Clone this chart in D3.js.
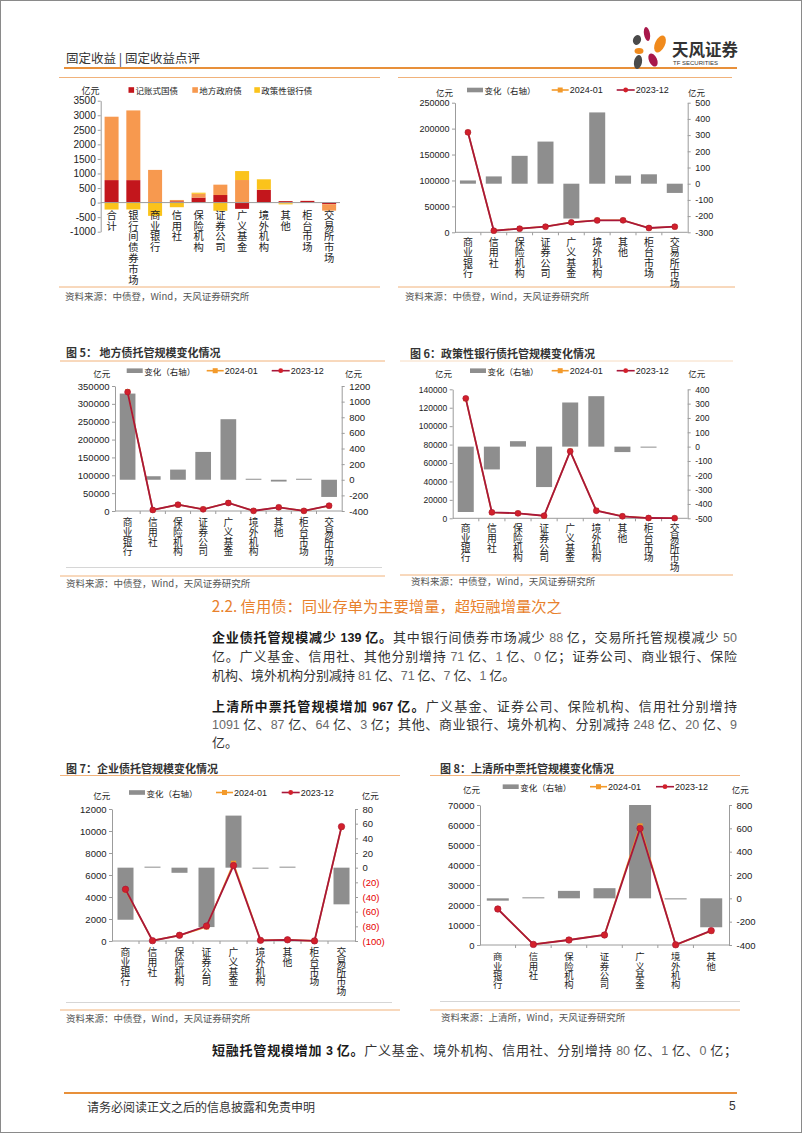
<!DOCTYPE html>
<html><head><meta charset="utf-8">
<script src="https://cdn.jsdelivr.net/npm/d3@7/dist/d3.min.js"></script>
<style>
html,body{margin:0;padding:0;background:#fff;}
#page{position:relative;width:802px;height:1133px;overflow:hidden;background:#fff;}
#page svg{position:absolute;left:0;top:0;}
.ln{position:absolute;left:212px;width:525px;height:19px;line-height:19px;font-family:"Noto Sans CJK SC",sans-serif;font-size:13px;color:#333;}
.j{text-align:justify;text-align-last:justify;}
.n{font-family:"Liberation Sans",Arial,sans-serif;color:#6a6a6a;font-size:12.5px;}
.ln b{font-weight:bold;color:#1a1a1a;}
.ln b .n{color:#1a1a1a;font-weight:bold;}
</style></head>
<body><div id="page"></div>
<script>
// ================= DATA =================
const catsAll = ["合计","银行间债券市场","商业银行","信用社","保险机构","证券公司","广义基金","境外机构","其他","柜台市场","交易所市场"];
const stackNames = ["记账式国债","地方政府债","政策性银行债"];
const govChgAll = [773, 772, 20, 45, 172, 260, -215, 440, 50, 58, -57];
const localChgAll = [2177, 2394, 1103, 45, 130, 356, 775, 8, -23, 3, -220];
const policyChgAll = [-239, -237, -456, -159, 38, -282, 308, 352, -38, -2, 0];
const ticksAll = [-1000, -500, 0, 500, 1000, 1500, 2000, 2500, 3000, 3500];

const legendNames = ["变化（右轴）", "2024-01", "2023-12"];
const cats9 = ["商业银行","信用社","保险机构","证券公司","广义基金","境外机构","其他","柜台市场","交易所市场"];
const cats7 = ["商业银行","信用社","保险机构","证券公司","广义基金","境外机构","其他"];

// 记账式国债 (top right)
const govChg  = [20, 45, 172, 260, -215, 440, 50, 58, -57];
const gov2401 = [192920, 3145, 7172, 11060, 19085, 23340, 23150, 8358, 10743];
const gov2312 = [192900, 3100, 7000, 10800, 19300, 22900, 23100, 8300, 10800];
const govTicksL = [0, 50000, 100000, 150000, 200000, 250000];
const govTicksR = [-300, -200, -100, 0, 100, 200, 300, 400, 500];

// 图5 地方债
const localChg  = [1103, 45, 130, 356, 775, 8, -23, 3, -220];
const local2401 = [334100, 2845, 17830, 5056, 23175, 508, 10277, 403, 14680];
const local2312 = [333000, 2800, 17700, 4700, 22400, 500, 10300, 400, 14900];
const localTicksL = [0, 50000, 100000, 150000, 200000, 250000, 300000, 350000];
const localTicksR = [-400, -200, 0, 200, 400, 600, 800, 1000, 1200];

// 图6 政策性银行债
const policyChg  = [-456, -159, 38, -282, 308, 352, -38, -2, 0];
const policy2401 = [129744, 6341, 5438, 2518, 73008, 8552, 2162, 298, 100];
const policy2312 = [130200, 6500, 5400, 2800, 72700, 8200, 2200, 300, 100];
const policyTicksL = [0, 20000, 40000, 60000, 80000, 100000, 120000, 140000];
const policyTicksR = [-500, -400, -300, -200, -100, 0, 100, 200, 300, 400];

// 图7 企业债
const corpChg  = [-71, 1, -7, -81, 71, -1, 0.4, 0, -50];
const corp2401 = [4629, 31, 513, 1279, 7060, 59, 110, 10, 10350];
const corp2312 = [4700, 30, 520, 1360, 6860, 60, 110, 10, 10400];
const corpTicksL = [0, 2000, 4000, 6000, 8000, 10000, 12000];
const corpTicksR = [-100, -80, -60, -40, -20, 0, 20, 40, 60, 80];

// 图8 上清所中票
const mtnChg  = [-20, 3, 64, 87, 1091, -9, -248];
const mtn2401 = [17980, 303, 2564, 5087, 59500, 91, 6952];
const mtn2312 = [18000, 300, 2500, 5000, 58300, 100, 7200];
const mtnTicksL = [0, 10000, 20000, 30000, 40000, 50000, 60000, 70000];
const mtnTicksR = [-400, -200, 0, 200, 400, 600, 800];

// ================= STYLE =================
const CJK = "'Noto Sans CJK SC','Noto Sans',sans-serif";
const NUM = "'Liberation Sans',Arial,sans-serif";
const C = {bar:"#8E8E8E", o:"#F39A2B", r:"#A8173A", rm:"#D3202A", gov:"#C3161C", loc:"#F7994F", pol:"#FBC31B",
           axis:"#9C9C9C", head:"#E8903A", box:"#F1B27A", gray:"#D6D6D6", txt:"#222"};
const plain = d => String(d);

const page = d3.select("#page");
const svg = page.append("svg").attr("width", 802).attr("height", 1133);
svg.append("rect").attr("x",0.5).attr("y",0.5).attr("width",801).attr("height",1132)
   .attr("fill","#fff").attr("stroke","#8a8a8a");

function addText(x, y, s, o = {}) {
  return svg.append("text").attr("x", x).attr("y", y).attr("dominant-baseline","central")
    .attr("font-family", o.ff || CJK).attr("font-size", o.fs || 10).attr("fill", o.fill || C.txt)
    .attr("font-weight", o.fw || "normal").attr("text-anchor", o.anchor || "start").text(s);
}
function hline(x1, x2, y, stroke, w = 1) {
  svg.append("line").attr("x1",x1).attr("x2",x2).attr("y1",y).attr("y2",y)
     .attr("stroke",stroke).attr("stroke-width",w);
}
// vertical category labels: one text per category, written top-to-bottom
function vlabels(g, x, cats, y0, dy, fs) {
  g.selectAll(null).data(cats).join("text")
    .attr("x", c => x(c) + x.bandwidth()/2).attr("y", y0 - fs/2)
    .attr("writing-mode", "vertical-rl").style("letter-spacing", (dy - fs) + "px")
    .attr("font-family", CJK).attr("font-size", fs).attr("fill", C.txt)
    .text(c => c);
}
function styleAxis(a, fs) {
  a.select(".domain").attr("stroke", C.axis);
  a.selectAll(".tick line").attr("stroke", C.axis);
  a.selectAll(".tick text").attr("font-family", NUM).attr("font-size", fs).attr("fill", C.txt);
}
let clipN = 0;

// ================= HEADER / FOOTER =================
addText(66, 57, "固定收益 | 固定收益点评", {fs:12.5, fill:"#333"});
hline(64, 737, 68, C.head, 2);
const logo = svg.append("g");
[[647,34,3,7,-10,"#A8174A"],[637,40,4,5,20,"#4A4A4A"],[660,44,5,9,25,"#F08A1C"],
 [639,51,4.5,3,0,"#F08A1C"],[638,62,4,7,10,"#4A4A4A"],[653,60,4,7,-25,"#A8174A"]].forEach(p=>{
  logo.append("ellipse").attr("cx",p[0]).attr("cy",p[1]).attr("rx",p[2]).attr("ry",p[3])
    .attr("transform",`rotate(${p[4]},${p[0]},${p[1]})`).attr("fill",p[5]);
});
addText(672, 49, "天风证券", {fs:16.5, fw:"bold", fill:"#333"});
addText(673, 63, "TF SECURITIES", {fs:6, ff:NUM, fill:"#333"});

hline(64, 737, 1093, C.head, 2);
addText(87, 1106, "请务必阅读正文之后的信息披露和免责申明", {fs:12, fill:"#333"});
addText(729, 1106, "5", {fs:12, ff:NUM, fill:"#333"});

// box lines (top row)
hline(59, 380, 77.5, C.box, 1);
hline(398, 732, 77.5, C.box, 1);
hline(59, 380, 287, C.box, 1);
hline(398, 735, 287, C.box, 1);
addText(65, 296, "资料来源：中债登，Wind，天风证券研究所", {fs:9.5, fill:"#555"});
addText(405, 296, "资料来源：中债登，Wind，天风证券研究所", {fs:9.5, fill:"#555"});

// fig5 / fig6 frames
addText(66, 352, "图 5： 地方债托管规模变化情况", {fs:11, fw:"bold", fill:"#333"});
hline(60, 385, 361, C.box, 1);
hline(66, 382, 567.5, C.gray, 1);
hline(60, 385, 576, C.box, 1);
addText(66, 583, "资料来源：中债登，Wind，天风证券研究所", {fs:9.5, fill:"#555"});

addText(410, 352.5, "图 6：政策性银行债托管规模变化情况", {fs:11, fw:"bold", fill:"#333"});
hline(400, 733, 361, "#F7DCC2", 1);
hline(400, 733, 575, C.box, 1);
addText(411, 581, "资料来源：中债登，Wind，天风证券研究所", {fs:9.5, fill:"#555"});

// fig7 / fig8 frames
addText(66, 767.5, "图 7：企业债托管规模变化情况", {fs:11, fw:"bold", fill:"#333"});
hline(60, 400, 775.5, C.box, 1);
hline(66, 392, 1002.5, C.gray, 1);
hline(60, 400, 1010, C.box, 1);
addText(66, 1018, "资料来源：中债登，Wind，天风证券研究所", {fs:9.5, fill:"#555"});

addText(440, 767.5, "图 8：上清所中票托管规模变化情况", {fs:11, fw:"bold", fill:"#333"});
hline(430, 740, 775.5, C.box, 1);
hline(440, 740, 1001.5, C.gray, 1);
hline(430, 740, 1010, C.box, 1);
addText(441, 1017, "资料来源：上清所，Wind，天风证券研究所", {fs:9.5, fill:"#555"});

// ================= STACKED CHART (top left) =================
(function(){
  const g = svg.append("g");
  const xL = 100.7, xR = 340, yT = 100.7, yB = 231.7;
  const x = d3.scaleBand().domain(catsAll).range([xL, xR]);
  const y = d3.scaleLinear().domain([ticksAll[0], ticksAll[ticksAll.length-1]]).range([yB, yT]);
  const rows = catsAll.map((c,i) => ({cat:c, a:govChgAll[i], b:localChgAll[i], c:policyChgAll[i]}));
  const series = d3.stack().keys(["a","b","c"]).offset(d3.stackOffsetDiverging)(rows);
  const cols = [C.gov, C.loc, C.pol];
  const bw = 14;
  series.forEach((s, k) => {
    g.append("g").selectAll("rect").data(s).join("rect")
      .attr("x", d => x(d.data.cat) + x.bandwidth()/2 - bw/2).attr("width", bw)
      .attr("y", d => y(Math.max(d[0], d[1]))).attr("height", d => Math.abs(y(d[0]) - y(d[1])))
      .attr("fill", cols[k]);
  });
  const ax = g.append("g").attr("transform", `translate(${xL},0)`)
    .call(d3.axisLeft(y).tickValues(ticksAll).tickSize(3).tickPadding(2).tickSizeOuter(0).tickFormat(plain));
  styleAxis(ax, 10);
  g.append("line").attr("x1",xL).attr("x2",xR).attr("y1",y(0)).attr("y2",y(0)).attr("stroke",C.axis);
  vlabels(g, x, catsAll, y(0) + 12.4, 10.8, 10.3);
  addText(81.5, 90, "亿元", {fs:9});
  const lx = [128.5, 192.3, 254.3];
  stackNames.forEach((nm, k) => {
    svg.append("rect").attr("x", lx[k]).attr("y", 87.2).attr("width", 5.6).attr("height", 5.6).attr("fill", cols[k]);
    addText(lx[k] + 7, 90, nm, {fs:8.5});
  });
})();

// ================= COMBO CHARTS =================
function combo(o) {
  const g = svg.append("g");
  const x = d3.scaleBand().domain(o.cats).range([o.xL, o.xR]);
  const yl = d3.scaleLinear().domain([o.lT[0], o.lT[o.lT.length-1]]).range([o.yB, o.yT]);
  const yr = d3.scaleLinear().domain([o.rT[0], o.rT[o.rT.length-1]]).range([o.yB, o.yT]);
  const cx = c => x(c) + x.bandwidth()/2;
  const id = "clip" + (clipN++);
  svg.append("clipPath").attr("id", id).append("rect")
    .attr("x", o.xL).attr("y", o.yT).attr("width", o.xR - o.xL).attr("height", o.yB - o.yT);
  // bars on the right axis
  g.append("g").attr("clip-path", `url(#${id})`).selectAll("rect").data(o.bars).join("rect")
    .attr("x", (d,i) => cx(o.cats[i]) - o.bw/2).attr("width", o.bw)
    .attr("y", d => d > 0 ? Math.min(yr(d), yr(0) - 1) : yr(0))
    .attr("height", d => d === 0 ? 0 : Math.max(1, Math.abs(yr(d) - yr(0))))
    .attr("fill", C.bar);
  const al = g.append("g").attr("transform", `translate(${o.xL},0)`)
    .call(d3.axisLeft(yl).tickValues(o.lT).tickSize(3).tickPadding(2.5).tickSizeOuter(0).tickFormat(plain));
  styleAxis(al, o.tfs);
  const ar = g.append("g").attr("transform", `translate(${o.xR},0)`)
    .call(d3.axisRight(yr).tickValues(o.rT).tickSize(3).tickPadding(4.5).tickSizeOuter(0)
      .tickFormat(o.rFmt || plain));
  styleAxis(ar, o.tfs);
  if (o.rRed) ar.selectAll(".tick text").attr("fill", d => d < 0 ? "#E60000" : C.txt);
  g.append("line").attr("x1", o.xL).attr("x2", o.xR).attr("y1", o.yB).attr("y2", o.yB).attr("stroke", C.axis);
  g.selectAll(null).data(o.cats.slice(1)).join("line")
    .attr("x1", d => x(d)).attr("x2", d => x(d)).attr("y1", o.yB).attr("y2", o.yB + 3).attr("stroke", C.axis);
  const line = d3.line().x((d,i) => cx(o.cats[i])).y(d => yl(d));
  g.append("path").datum(o.a).attr("d", line).attr("fill","none").attr("stroke", C.o).attr("stroke-width", 1.6);
  g.selectAll(null).data(o.a).join("rect")
    .attr("x", (d,i) => cx(o.cats[i]) - 2.6).attr("y", d => yl(d) - 2.6).attr("width", 5.2).attr("height", 5.2).attr("fill", C.o);
  g.append("path").datum(o.b).attr("d", line).attr("fill","none").attr("stroke", C.r).attr("stroke-width", 1.8);
  g.selectAll(null).data(o.b).join("circle")
    .attr("cx", (d,i) => cx(o.cats[i])).attr("cy", d => yl(d)).attr("r", o.mr || 2.9)
    .attr("fill", C.rm).attr("stroke", C.r).attr("stroke-width", 0.7);
  vlabels(g, x, o.cats, o.yB + o.lo, o.dy, o.fs);
  const L = o.L;
  addText(L.uL, L.y + 2, "亿元", {fs:8.5});
  svg.append("rect").attr("x", L.rx).attr("y", L.y - 2.3).attr("width", 16).attr("height", 4.6).attr("fill", C.bar);
  addText(L.rx + 17.5, L.y, legendNames[0], {fs:8.5});
  hline(L.ox, L.ox + 17, L.y, C.o, 1.6);
  svg.append("rect").attr("x", L.ox + 6).attr("y", L.y - 2.5).attr("width", 5).attr("height", 5).attr("fill", C.o);
  addText(L.ox + 18, L.y, legendNames[1], {ff:NUM, fs:9});
  hline(L.mx, L.mx + 18, L.y, C.r, 1.6);
  svg.append("circle").attr("cx", L.mx + 9).attr("cy", L.y).attr("r", 2.4).attr("fill", C.rm);
  addText(L.mx + 19, L.y, legendNames[2], {ff:NUM, fs:9});
  addText(L.uR, L.y + 2, "亿元", {fs:8.5});
}

combo({cats:cats9, bars:govChg, a:gov2401, b:gov2312, lT:govTicksL, rT:govTicksR,
  xL:455, xR:687.7, yT:102.7, yB:232.3, bw:16, tfs:9, lo:10, dy:10.3, fs:10,
  L:{y:90, uL:436, rx:467, ox:551.7, mx:616.7, uR:688}});

combo({cats:cats9, bars:localChg, a:local2401, b:local2312, lT:localTicksL, rT:localTicksR,
  xL:115, xR:341.7, yT:386, yB:511, bw:15.7, tfs:9.5, lo:11.7, dy:9.7, fs:9.7,
  L:{y:370.7, uL:93.3, rx:126.7, ox:206.7, mx:271.7, uR:345}});

combo({cats:cats9, bars:policyChg, a:policy2401, b:policy2312, lT:policyTicksL, rT:policyTicksR,
  xL:452.7, xR:687.7, yT:389.3, yB:518.3, bw:16, tfs:8.5, lo:10, dy:9.8, fs:9.8,
  L:{y:370.7, uL:435, rx:470, ox:551.7, mx:616.7, uR:688.3}});

combo({cats:cats9, bars:corpChg, a:corp2401, b:corp2312, lT:corpTicksL, rT:corpTicksR,
  xL:112, xR:355, yT:809, yB:941, bw:16, tfs:9.5, lo:11.3, dy:9.8, fs:9.8, mr:3.2,
  rFmt: d => d < 0 ? `(${-d})` : String(d), rRed:true,
  L:{y:792.5, uL:93.3, rx:129, ox:216, mx:281.7, uR:361.7}});

combo({cats:cats7, bars:mtnChg, a:mtn2401, b:mtn2312, lT:mtnTicksL, rT:mtnTicksR,
  xL:480, xR:729, yT:805, yB:945, bw:22, tfs:9.5, lo:11.7, dy:9.4, fs:9.4, mr:3.2,
  L:{y:786.7, uL:463, rx:502.7, ox:590, mx:656, uR:731.7}});

// ================= TEXT =================
addText(211.7, 605, "2.2. 信用债：同业存单为主要增量，超短融增量次之", {fs:15.3, fill:"#E8812C"});

const bodyLines = [
  {y:636.7, j:true, h:'<b>企业债托管规模减少 <span class="n">139</span> 亿。</b>其中银行间债券市场减少 <span class="n">88</span> 亿，交易所托管规模减少 <span class="n">50</span>'},
  {y:655.7, j:true, h:'亿。广义基金、信用社、其他分别增持 <span class="n">71</span> 亿、<span class="n">1</span> 亿、<span class="n">0</span> 亿；证券公司、商业银行、保险'},
  {y:674.3, j:false, h:'机构、境外机构分别减持 <span class="n">81</span> 亿、<span class="n">71</span> 亿、<span class="n">7</span> 亿、<span class="n">1</span> 亿。'},
  {y:705.7, j:true, h:'<b>上清所中票托管规模增加 <span class="n">967</span> 亿。</b>广义基金、证券公司、保险机构、信用社分别增持'},
  {y:723.3, j:true, h:'<span class="n">1091</span> 亿、<span class="n">87</span> 亿、<span class="n">64</span> 亿、<span class="n">3</span> 亿；其他、商业银行、境外机构、分别减持 <span class="n">248</span> 亿、<span class="n">20</span> 亿、<span class="n">9</span>'},
  {y:741.7, j:false, h:'亿。'},
  {y:1049, j:true, h:'<b>短融托管规模增加 <span class="n">3</span> 亿。</b>广义基金、境外机构、信用社、分别增持 <span class="n">80</span> 亿、<span class="n">1</span> 亿、<span class="n">0</span> 亿；'}
];
bodyLines.forEach(l => {
  page.append("div").attr("class", "ln" + (l.j ? " j" : "")).style("top", (l.y - 9.5) + "px").html(l.h);
});
</script>
</body></html>
